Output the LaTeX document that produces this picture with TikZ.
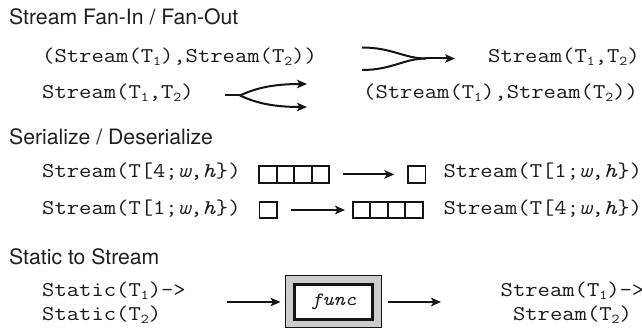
\documentclass[tikz,border=0pt]{standalone}
\usepackage{fontspec}
\setmainfont{TeX Gyre Heros}
\newfontfamily\monof[FakeStretch=1.14]{Latin Modern Mono}
\usetikzlibrary{arrows.meta}
\newcommand{\sbs}[1]{\raisebox{-0.1em}{\fontsize{13.5}{14}\selectfont #1}}
\begin{document}
\begin{tikzpicture}[x=1pt,y=-1pt,
  heading/.style={anchor=base west,inner sep=0,font=\fontsize{21.2}{25}\selectfont,text=black!88},
  code/.style={anchor=base west,inner sep=0,font=\monof\fontsize{21}{24}\selectfont,text=black!90},
  codec/.style={code,anchor=base},
  conn/.style={line width=2pt,draw=black!92},
  arr/.style={conn,-{Stealth[length=10pt,width=8.5pt,inset=2.5pt]}},
  cell/.style={draw=black!92,line width=1.8pt,minimum width=17.5pt,minimum height=16.7pt,inner sep=0,outer sep=0},
  outerbox/.style={draw=black!92,fill=black!20,line width=1.8pt,minimum width=96pt,minimum height=52pt,inner sep=0,outer sep=0},
  innerbox/.style={draw=black!92,fill=white,line width=3pt,minimum width=78.7pt,minimum height=35pt,inner sep=0,outer sep=0,font=\monof\itshape\fontsize{18.8}{20}\selectfont,text=black!90}]
\useasboundingbox (0,0) rectangle (642,328);

% ---------- Fan-In / Fan-Out ----------
\node[heading] (h1) at (9,24.5) {Stream Fan-In / Fan-Out};
\node[code] (f1L) at (42,63) {(Stream(T\sbs{1}),Stream(T\sbs{2}))};
\node[code] (f1R) at (488,63) {Stream(T\sbs{1},T\sbs{2})};
\node[code] (f2L) at (42,99) {Stream(T\sbs{1},T\sbs{2})};
\node[code] (f2R) at (363,99) {(Stream(T\sbs{1}),Stream(T\sbs{2}))};

\coordinate (fi1) at (362,47.5);
\coordinate (fi2) at (362,70);
\coordinate (fim) at (426,58.5);
\coordinate (fie) at (455,58.5);
\draw[conn] (fi1) .. controls (392,47.5) and (404,58.5) .. (fim);
\draw[conn] (fi2) .. controls (392,70) and (404,58.5) .. (fim);
\draw[arr] (fim) -- (fie);

\coordinate (fo0) at (225,95.5);
\coordinate (fos) at (240,95.5);
\coordinate (fo1) at (307,84);
\coordinate (fo2) at (307,107);
\draw[conn] (fo0) -- (fos);
\draw[arr] (fos) .. controls (252,90) and (268,84) .. (fo1);
\draw[arr] (fos) .. controls (252,101) and (268,107) .. (fo2);

% ---------- Serialize / Deserialize ----------
\node[heading] (h2) at (9,145) {Serialize / Deserialize};
\node[code] (s3L) at (42,178) {Stream(T[4;\textit{w},\textit{h}\})};
\node[code] (s3R) at (443.3,178) {Stream(T[1;\textit{w},\textit{h}\})};
\node[code] (s4L) at (42,215) {Stream(T[1;\textit{w},\textit{h}\})};
\node[code] (s4R) at (443.3,215) {Stream(T[4;\textit{w},\textit{h}\})};

\node[cell] (r3a) at (268.05,174.4) {};
\node[cell] (r3b) at (285.55,174.4) {};
\node[cell] (r3c) at (303.05,174.4) {};
\node[cell] (r3d) at (320.55,174.4) {};
\node[cell] (r3s) at (416.8,174.4) {};
\draw[arr,shorten <=13.4pt,shorten >=13.7pt] (r3d.east) -- (r3s.west);

\node[cell] (r4s) at (268.3,210) {};
\node[cell] (r4a) at (361.45,210) {};
\node[cell] (r4b) at (378.95,210) {};
\node[cell] (r4c) at (396.45,210) {};
\node[cell] (r4d) at (413.95,210) {};
\draw[arr,shorten <=14.4pt,shorten >=7.7pt] (r4s.east) -- (r4a.west);

% ---------- Static to Stream ----------
\node[heading] (h3) at (9,264.5) {Static to Stream};
\node[code] (t1L) at (42,297) {Static(T\sbs{1})->};
\node[code] (t2L) at (42,321) {Static(T\sbs{2})};
\node[codec] (t1R) at (572.5,297) {Stream(T\sbs{1})->};
\node[codec] (t2R) at (572.5,321) {Stream(T\sbs{2})};

\node[outerbox] (fo) at (333.5,301.5) {};
\node[innerbox] (fi) at (333.5,301.8) {func};
\coordinate (ain) at (227.3,302);
\coordinate (aout) at (441,302);
\draw[arr,shorten >=5pt] (ain) -- (fo.west |- ain);
\draw[arr,shorten <=6.6pt] (fo.east |- aout) -- (aout);
\end{tikzpicture}
\end{document}
